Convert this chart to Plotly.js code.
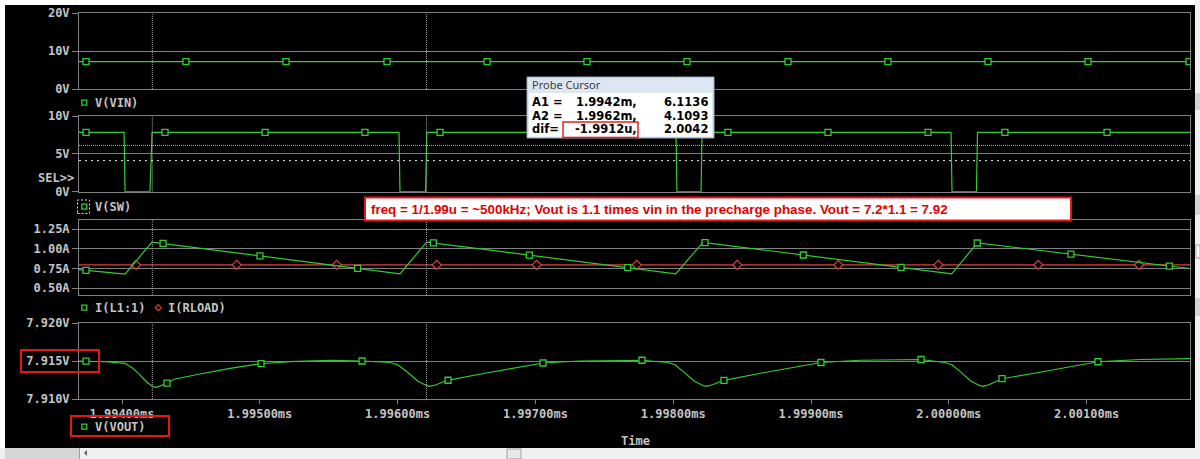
<!DOCTYPE html>
<html><head><meta charset="utf-8">
<script src="https://cdn.plot.ly/plotly-3.0.1.min.js"></script>
<style>html,body{margin:0;padding:0;background:#fff;overflow:hidden}#chart{width:1200px;height:459px}</style>
</head><body><div id="chart"></div>
<script>
// ---------------- data (time in ms) ----------------
const timeRange = [1.993688, 2.001750];
const tickTimes = [1.994, 1.995, 1.996, 1.997, 1.998, 1.999, 2.000, 2.001];
const tickLabels = ['1.99400ms','1.99500ms','1.99600ms','1.99700ms','1.99800ms','1.99900ms','2.00000ms','2.00100ms'];

const vinTicks = [0, 10, 20];
const vinTickLabels = ['0V', '10V', '20V'];
const swTicks = [0, 5, 10];
const swTickLabels = ['0V', '5V', '10V'];
const iTicks = [0.5, 0.75, 1.0, 1.25];
const iTickLabels = ['0.50A', '0.75A', '1.00A', '1.25A'];
const voutTicks = [7.910, 7.915, 7.920];
const voutTickLabels = ['7.910V', '7.915V', '7.920V'];

// V(VIN)
const vinTime = [1.993688, 2.001750];
const vinValue = [7.2, 7.2];
const vinMarkerTime = [1.993739, 1.994464, 1.995190, 1.995923, 1.996649, 1.997374, 1.998100, 1.998833, 1.999558, 2.000284, 2.001010, 2.001743];

// V(SW)
const swTime  = [1.993688, 1.994015, 1.994022, 1.994203, 1.994212, 1.994218, 1.996010, 1.996017, 1.996203, 1.996207, 1.996212, 1.998020, 1.998027, 1.998202, 1.998209, 2.000016, 2.000023, 2.000200, 2.000208, 2.001750];
const swValue = [7.85,     7.85,     0,        0,        4.6,      7.85,     7.85,     0,        0,        3.0,      7.85,     7.85,     0,        0,        7.85,     7.85,     0,        0,        7.85,     7.85];
const swMarkerTime = [1.993739, 1.994312, 1.995038, 1.995763, 1.996308, 1.997033, 1.997759, 1.998397, 1.999123, 1.999849, 2.000407, 2.001148];

// I(L1:1)
const ilTime  = [1.993688, 1.994022, 1.994218, 1.996017, 1.996211, 1.998018, 1.998216, 2.000021, 2.000207, 2.001750];
const ilValue = [0.735,    0.678,    1.085,    0.683,    1.085,    0.683,    1.082,    0.683,    1.075,    0.750];
const ilMarkerTime = [1.993739, 1.994298, 1.995001, 1.995710, 1.996259, 1.996956, 1.997670, 1.998231, 1.998944, 1.999653, 2.000206, 2.000886, 2.001600];

// I(RLOAD)
const rloadTime = [1.993688, 2.001750];
const rloadValue = [0.796, 0.796];
const rloadMarkerTime = [1.994102, 1.994832, 1.995558, 1.996284, 1.997009, 1.997735, 1.998465, 1.999198, 1.999924, 2.000649, 2.001380];

// V(VOUT)
const voutTime = [
  1.993688, 1.993877, 1.994022, 1.994073, 1.994123, 1.994181, 1.994225, 1.994252, 1.994290, 1.994324, 1.994385, 1.994566, 1.994784, 1.995001, 1.995219, 1.995509,
  1.995742, 1.995945, 1.996000, 1.996064, 1.996148, 1.996213, 1.996235, 1.996279, 1.996363, 1.996641, 1.997055, 1.997323, 1.997614,
  1.997773, 1.997962, 1.998013, 1.998071, 1.998154, 1.998219, 1.998241, 1.998285, 1.998368, 1.998644, 1.999072, 1.999355, 1.999646,
  1.999798, 1.999972, 2.000023, 2.000081, 2.000161, 2.000226, 2.000248, 2.000291, 2.000386, 2.000661, 2.001082, 2.001387, 2.001750];
const voutValue = [
  7.91500, 7.91490, 7.91470, 7.91410, 7.91330, 7.91220, 7.91162, 7.91154, 7.91180, 7.91207, 7.91263, 7.91329, 7.91404, 7.91464, 7.91491, 7.91510,
  7.91500, 7.91480, 7.91451, 7.91364, 7.91233, 7.91175, 7.91167, 7.91188, 7.91246, 7.91342, 7.91474, 7.91500, 7.91510,
  7.91510, 7.91480, 7.91451, 7.91364, 7.91233, 7.91175, 7.91167, 7.91188, 7.91246, 7.91342, 7.91480, 7.91510, 7.91520,
  7.91520, 7.91480, 7.91451, 7.91364, 7.91233, 7.91175, 7.91167, 7.91188, 7.91267, 7.91352, 7.91490, 7.91520, 7.91530];
const voutMarkerTime = [1.993739, 1.994327, 1.995009, 1.995742, 1.996366, 1.997055, 1.997773, 1.998368, 1.999072, 1.999798, 2.000386, 2.001082];

// probe cursor
const cursorA1 = 1.99422, cursorA2 = 1.99621;
const cursorLevelA1 = 6.1136, cursorLevelA2 = 4.1093;
const probeRows = [['A1 =', '1.9942m,', '6.1136'], ['A2 =', '1.9962m,', '4.1093'], ['dif=', '-1.9912u,', '2.0042']];
const noteText = 'freq = 1/1.99u = ~500kHz; Vout is 1.1 times vin in the precharge phase. Vout = 7.2*1.1 = 7.92';

// ---------------- helpers ----------------
const W = 1200, H = 459;
const px = x => x / W, py = y => 1 - y / H;
function interp(ts, vs, t) {
  for (let i = 1; i < ts.length; i++) {
    if (t <= ts[i]) { const f = (t - ts[i-1]) / (ts[i] - ts[i-1]); return vs[i-1] + f * (vs[i] - vs[i-1]); }
  }
  return vs[vs.length - 1];
}
function rect(x0, y0, x1, y1, fill, lineColor, lw, dash) {
  return {type:'rect', xref:'paper', yref:'paper', x0:px(x0), x1:px(x1), y0:py(y1), y1:py(y0),
    fillcolor: fill || 'rgba(0,0,0,0)', line:{color: lineColor || 'rgba(0,0,0,0)', width: lw || 0, dash: dash || 'solid'}, layer:'above'};
}
function hline(x0, y0, x1, y1, color, lw) {
  return {type:'line', xref:'paper', yref:'paper', x0:px(x0), x1:px(x1), y0:py(y0), y1:py(y1), line:{color, width:lw||1}, layer:'above'};
}
const GREEN = '#33cc33', RED = '#d94040', GRID = '#808080', TXT = '#c4c4c4';
const monoFont = {family:'DejaVu Sans Mono', size:12, color:TXT, weight:'bold'};

function lineTrace(t, v, k, color) {
  return {x:t, y:v, xaxis:'x'+(k===1?'':k), yaxis:'y'+(k===1?'':k), mode:'lines', line:{color, width:1.2}, hoverinfo:'skip', showlegend:false};
}
function markerTrace(mt, t, v, k, color, symbol) {
  return {x:mt, y:mt.map(q => interp(t, v, q)), xaxis:'x'+(k===1?'':k), yaxis:'y'+(k===1?'':k), mode:'markers',
    marker:{symbol, size: symbol==='diamond' ? 7 : 6, color:'#000', line:{color, width:1.3}}, hoverinfo:'skip', showlegend:false};
}

const traces = [
  lineTrace(vinTime, vinValue, 1, GREEN), markerTrace(vinMarkerTime, vinTime, vinValue, 1, GREEN, 'square'),
  lineTrace(swTime, swValue, 2, GREEN), markerTrace(swMarkerTime, swTime, swValue, 2, GREEN, 'square'),
  lineTrace(rloadTime, rloadValue, 3, RED), markerTrace(rloadMarkerTime, rloadTime, rloadValue, 3, RED, 'diamond'),
  lineTrace(ilTime, ilValue, 3, GREEN), markerTrace(ilMarkerTime, ilTime, ilValue, 3, GREEN, 'square'),
  lineTrace(voutTime, voutValue, 4, GREEN), markerTrace(voutMarkerTime, voutTime, voutValue, 4, GREEN, 'square')
];

const xDomain = [px(79), px(1190)];
const yDomains = [[py(89), py(13)], [py(191.7), py(116)], [py(295), py(220)], [py(399), py(323)]];
const yRanges = [[0, 20], [0, 10], [0.415, 1.364], [7.910, 7.920]];
const yTicks = [[vinTicks, vinTickLabels], [swTicks, swTickLabels], [iTicks, iTickLabels], [voutTicks, voutTickLabels]];

const layout = {
  width: W, height: H, margin:{l:0, r:0, t:0, b:0},
  paper_bgcolor:'#000', plot_bgcolor:'#000', showlegend:false,
  shapes: [], annotations: []
};
for (let k = 1; k <= 4; k++) {
  const s = k === 1 ? '' : String(k);
  layout['xaxis' + s] = {
    domain: xDomain, range: timeRange, anchor: 'y' + s, showgrid:false, zeroline:false,
    showline:true, mirror:true, linecolor:GRID, linewidth:1, fixedrange:true,
    showticklabels: k === 4, ticks: k === 4 ? 'outside' : '', ticklen:4, tickcolor:GRID,
    tickvals: tickTimes, ticktext: tickLabels, tickfont: monoFont
  };
  layout['yaxis' + s] = {
    domain: yDomains[k-1], range: yRanges[k-1], anchor: 'x' + s, showgrid:true, gridcolor:GRID, gridwidth:1,
    zeroline:false, showline:true, mirror:true, linecolor:GRID, linewidth:1, fixedrange:true,
    ticks:'outside', ticklen:6, tickcolor:GRID, tickvals: yTicks[k-1][0], ticktext: yTicks[k-1][1], tickfont: monoFont
  };
  [cursorA1, cursorA2].forEach(c => layout.shapes.push({type:'line', xref:'x'+s, yref:'y'+s+' domain', x0:c, x1:c, y0:0, y1:1,
    line:{color:'#a8a8a8', width:1, dash:'1px,1px'}, layer:'above'}));
}
layout.shapes.push({type:'line', xref:'x2 domain', yref:'y2', x0:0, x1:1, y0:cursorLevelA1, y1:cursorLevelA1, line:{color:'#b8b8b8', width:1, dash:'1px,1px'}, layer:'above'});
layout.shapes.push({type:'line', xref:'x2 domain', yref:'y2', x0:0, x1:1, y0:cursorLevelA2, y1:cursorLevelA2, line:{color:'#e8e8e8', width:1, dash:'2px,4px'}, layer:'above'});

// window chrome
layout.shapes.push(rect(0, 0, 1200, 5, '#ffffff'));
layout.shapes.push(rect(0, 0, 5, 459, '#ffffff'));
layout.shapes.push(rect(1195, 0, 1200, 459, '#f0f0f0'));
[[93,110],[195,215],[298,316]].forEach(r => layout.shapes.push(rect(1195, r[0], 1200, r[1], '#d4d4d4')));
layout.shapes.push(rect(1196, 245, 1200, 258, '#ffffff', '#a0a0a0', 1));
layout.shapes.push(rect(0, 448, 1200, 459, '#f0f0f0'));
layout.shapes.push(rect(5, 448, 79, 459, '#d6d6d6'));
layout.shapes.push(hline(79.5, 448, 79.5, 459, '#a0a0a0', 1));
layout.shapes.push(rect(507, 449, 521, 459, '#e8e8e8', '#a0a0a0', 1));
layout.shapes.push({type:'path', xref:'paper', yref:'paper', path:`M ${px(87)} ${py(450)} L ${px(84)} ${py(453)} L ${px(87)} ${py(456)} Z`, fillcolor:'#606060', line:{width:0}, layer:'above'});

// probe cursor window
layout.shapes.push(rect(527, 77, 714, 138, '#dde7f3', '#9aaac4', 1));
layout.shapes.push(rect(529, 93, 712, 136.5, '#ffffff'));
layout.annotations.push({xref:'paper', yref:'paper', x:px(530), y:py(85), xanchor:'left', yanchor:'middle', showarrow:false,
  text:'Probe Cursor', font:{family:'Noto Sans', size:11, color:'#404040'}});
const rowY = [102, 115.5, 129];
probeRows.forEach((r, i) => {
  const f = {family:'DejaVu Sans', size:11.5, color:'#000', weight:'bold'};
  layout.annotations.push({xref:'paper', yref:'paper', x:px(530), y:py(rowY[i]), xanchor:'left', yanchor:'middle', showarrow:false, text:r[0], font:f});
  layout.annotations.push({xref:'paper', yref:'paper', x:px(639), y:py(rowY[i]), xanchor:'right', yanchor:'middle', showarrow:false, text:r[1], font:f});
  layout.annotations.push({xref:'paper', yref:'paper', x:px(710), y:py(rowY[i]), xanchor:'right', yanchor:'middle', showarrow:false, text:r[2], font:f});
});
layout.shapes.push(rect(563, 122, 638, 137.5, null, '#e8201c', 1.5));

// note box
layout.shapes.push(rect(365, 197.5, 1071, 220.5, '#ffffff', '#e8141c', 2));
layout.annotations.push({xref:'paper', yref:'paper', x:px(369), y:py(209.5), xanchor:'left', yanchor:'middle', showarrow:false,
  text: noteText, font:{family:'Liberation Sans Narrow, Arial Narrow, Liberation Sans', size:13.4, color:'#e60000', weight:'bold'}});

// legends
function sq(cx, cy, color) { return rect(cx-2.5, cy-2.5, cx+2.5, cy+2.5, '#000', color, 1.3); }
function legendText(x, y, t) {
  layout.annotations.push({xref:'paper', yref:'paper', x:px(x), y:py(y), xanchor:'left', yanchor:'middle', showarrow:false, text:t, font:monoFont});
}
layout.shapes.push(sq(84.3, 102.7, GREEN)); legendText(93, 102.7, 'V(VIN)');
layout.shapes.push(sq(84.3, 206.7, GREEN)); legendText(93, 206.7, 'V(SW)');
layout.shapes.push(rect(77.5, 200, 89.5, 213.5, null, '#e0e0e0', 1, '2px,2px'));
layout.shapes.push(sq(84.3, 307.7, GREEN)); legendText(93, 307.7, 'I(L1:1)');
layout.shapes.push({type:'path', xref:'paper', yref:'paper', path:`M ${px(158.3)} ${py(304.7)} L ${px(161.3)} ${py(307.7)} L ${px(158.3)} ${py(310.7)} L ${px(155.3)} ${py(307.7)} Z`, fillcolor:'#000', line:{color:RED, width:1.2}, layer:'above'});
legendText(165.5, 307.7, 'I(RLOAD)');
layout.shapes.push(sq(84.3, 426.7, GREEN)); legendText(93, 426.7, 'V(VOUT)');

layout.annotations.push({xref:'paper', yref:'paper', x:px(76), y:py(178.3), xanchor:'right', yanchor:'middle', showarrow:false, text:'SEL>>', font:monoFont});
layout.annotations.push({xref:'paper', yref:'paper', x:px(635), y:py(440.5), xanchor:'center', yanchor:'middle', showarrow:false, text:'Time', font:monoFont});

layout.shapes.push(rect(21, 350, 99, 372, null, '#e8141c', 2));
layout.shapes.push(rect(71, 416, 169, 436, null, '#e8141c', 2));

Plotly.newPlot('chart', traces, layout, {displayModeBar:false, staticPlot:true});
</script></body></html>
